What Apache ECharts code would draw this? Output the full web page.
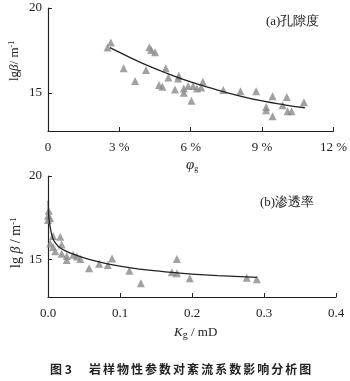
<!DOCTYPE html>
<html><head><meta charset="utf-8">
<script src="https://cdn.jsdelivr.net/npm/echarts@6/dist/echarts.min.js"></script>
<style>html,body{margin:0;padding:0;background:#fff}#c{width:350px;height:381px}</style>
</head><body><div id="c"></div>
<script>
// (a) porosity, %  vs lg(beta)
const porosityPts = [
  [2.50,17.67],[2.64,17.96],[3.18,16.45],[3.66,15.69],[4.12,16.34],[4.26,17.69],[4.34,17.53],[4.50,17.39],
  [4.67,15.46],[4.81,15.36],[4.95,16.45],[5.06,15.91],[5.34,15.20],[5.47,15.85],[5.50,16.01],[5.71,15.26],
  [5.71,15.00],[5.89,15.40],[6.03,14.53],[6.10,15.40],[6.26,15.26],[6.44,15.32],[6.51,15.65],[7.37,15.16],
  [8.09,15.10],[8.75,15.10],[9.17,14.17],[9.17,13.98],[9.44,14.80],[9.44,13.62],[9.86,14.27],[10.04,14.76],
  [10.07,13.92],[10.24,13.92],[10.76,14.45]
];
const porosityFit = [
  [2.6,17.66],[3.5,17.05],[4.3,16.54],[5.0,16.15],[6.0,15.64],[7.0,15.22],[8.0,14.84],[9.0,14.52],[10.0,14.28],[10.8,14.12]
];
// (b) permeability, mD vs lg(beta)
const permPts = [
  [0.000,17.62],[0.001,17.92],[0.000,17.37],[0.003,17.47],[0.007,16.40],[0.017,16.36],[0.003,15.95],[0.007,15.75],
  [0.010,15.49],[0.019,15.89],[0.019,15.34],[0.026,15.20],[0.026,14.96],[0.035,15.28],[0.040,15.18],[0.045,15.03],
  [0.057,14.47],[0.071,14.74],[0.083,14.66],[0.089,15.06],[0.113,14.33],[0.129,13.58],[0.172,14.24],[0.179,14.17],
  [0.179,15.02],[0.197,13.87],[0.276,13.91],[0.290,13.81]
];
const permFit = [
  [0.0003,18.5],[0.0008,17.75],[0.0015,17.35],[0.003,16.95],[0.005,16.52],[0.0074,16.2],[0.011,15.95],[0.0166,15.7],
  [0.025,15.5],[0.035,15.32],[0.05,15.1],[0.071,14.86],[0.09,14.68],[0.115,14.5],[0.14,14.36],[0.172,14.22],[0.2,14.12],[0.236,14.03],[0.29,13.93]
];
const porosityTicks = [0,3,6,9,12];
const permTicks = [0,0.1,0.2,0.3,0.4];
const yTicks = [15,20];
const caption = '岩样物性参数对紊流系数影响分析图';

const serif = '"Liberation Serif","DejaVu Serif",serif';
const cjk = '"Noto Sans CJK SC",sans-serif';
const axisLine = {show:true, onZero:false, lineStyle:{color:'#222', width:1.2}};
const tick = {show:true, inside:true, length:4, lineStyle:{color:'#222', width:1}};

function yAxis(gi){
  return {type:'value', gridIndex:gi, min:12.75, max:20,
    axisLine:axisLine, splitLine:{show:false},
    axisTick:Object.assign({customValues:yTicks}, tick),
    axisLabel:{customValues:yTicks, color:'#222', fontFamily:serif, fontSize:13, margin:6}};
}
const chart = echarts.init(document.getElementById('c'));
chart.setOption({
  animation:false,
  grid:[{left:48, right:13, top:8, height:123},{left:48, right:14, top:176, height:121}],
  xAxis:[
    {type:'value', gridIndex:0, min:0, max:12, interval:3, axisLine:axisLine, splitLine:{show:false},
     axisTick:tick, axisLabel:{color:'#222', fontFamily:serif, fontSize:13, margin:10,
       formatter:v=>v===0?'0':v+' %'}},
    {type:'value', gridIndex:1, min:0, max:0.4, interval:0.1, axisLine:axisLine, splitLine:{show:false},
     axisTick:tick, axisLabel:{color:'#222', fontFamily:serif, fontSize:13, margin:10,
       formatter:v=>v.toFixed(1)}}
  ],
  yAxis:[yAxis(0), yAxis(1)],
  series:[
    {type:'scatter', xAxisIndex:0, yAxisIndex:0, data:porosityPts, symbol:'triangle', symbolSize:8,
     itemStyle:{color:'#8a8a8a'}, z:2},
    {type:'line', xAxisIndex:0, yAxisIndex:0, data:porosityFit, smooth:true, symbol:'none',
     lineStyle:{color:'#222', width:1.3}, z:3},
    {type:'scatter', xAxisIndex:1, yAxisIndex:1, data:permPts, symbol:'triangle', symbolSize:8,
     itemStyle:{color:'#8a8a8a'}, z:2},
    {type:'line', xAxisIndex:1, yAxisIndex:1, data:permFit, smooth:0.3, symbol:'none',
     lineStyle:{color:'#222', width:1.3}, z:3}
  ],
  graphic:[
    {type:'text', x:266, y:15, style:{text:'(a)孔隙度', font:'13px '+serif, fill:'#222'}},
    {type:'text', x:260, y:196, style:{text:'(b)渗透率', font:'13px '+serif, fill:'#222'}},
    {type:'text', x:8, y:81, rotation:Math.PI/2, style:{
      text:'{n|lg}{i|β}{n|/ m}{s|-1}', fill:'#222',
      rich:{n:{fontFamily:serif, fontSize:13}, i:{fontFamily:serif, fontStyle:'italic', fontSize:13},
            s:{fontFamily:serif, fontSize:8, verticalAlign:'top', padding:[0,0,6,0]}}}},
    {type:'text', x:9, y:268, rotation:Math.PI/2, style:{
      text:'{n|lg }{i|β}{n| / m}{s|-1}', fill:'#222',
      rich:{n:{fontFamily:serif, fontSize:14}, i:{fontFamily:serif, fontStyle:'italic', fontSize:14},
            s:{fontFamily:serif, fontSize:9, verticalAlign:'top', padding:[0,0,6,0]}}}},
    {type:'text', x:186, y:157, style:{text:'{i|φ}{s|g}', fill:'#222',
      rich:{i:{fontFamily:serif, fontStyle:'italic', fontSize:15}, s:{fontFamily:serif, fontSize:8, padding:[8,0,0,0]}}}},
    {type:'text', x:174, y:325, style:{text:'{i|K}{s|g}{n| / mD}', fill:'#222',
      rich:{i:{fontFamily:serif, fontStyle:'italic', fontSize:13}, s:{fontFamily:serif, fontSize:10, padding:[5,0,0,0]},
            n:{fontFamily:serif, fontSize:13}}}},
    {type:'text', x:50, y:363, style:{text:'图 3', font:'bold 12px '+cjk, fill:'#222'}},
    {type:'text', x:89, y:363, style:{text:caption.split('').map(c=>'{c|'+c+'}').join('{sp| }'), fill:'#222',
      rich:{c:{fontFamily:cjk, fontWeight:'bold', fontSize:12}, sp:{fontFamily:cjk, fontSize:9}}}}
  ]
});
</script></body></html>
